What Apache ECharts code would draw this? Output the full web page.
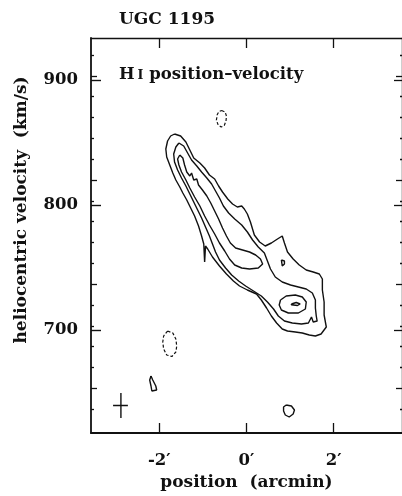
<!DOCTYPE html>
<html>
<head>
<meta charset="utf-8">
<script src="https://cdn.jsdelivr.net/npm/echarts@6/dist/echarts.min.js"></script>
<style>html,body{margin:0;padding:0;background:#fff}#chart{width:402px;height:496px}</style>
</head>
<body>
<div id="chart"></div>
<script>
// ---- tick values ----
const xTickValues = [-2, 0, 2];
const yTickValues = [700, 800, 900];
const yMediumTicks = [653.3, 736.7, 820, 903.3];
const yMinorTicks = [636.7, 670, 686.7, 703.3, 720, 753.3, 770, 786.7, 803.3, 836.7, 853.3, 870, 886.7, 920];

// ---- contours: [position (arcmin), heliocentric velocity (km/s)] ----
const contourLevel1 = [
  [-1.65,856.8],[-1.51,855.2],[-1.39,850.4],[-1.30,844],[-1.21,837.6],[-1.07,833.6],[-0.96,829.6],
  [-0.85,824],[-0.73,820.8],[-0.64,815.2],[-0.55,810.4],[-0.43,804.8],[-0.32,800.8],[-0.21,798.4],
  [-0.11,799.2],[-0.05,796.8],[0.02,792.8],[0.09,786.4],[0.18,776],[0.30,770.4],[0.43,767.2],
  [0.57,769.6],[0.71,772.8],[0.82,775.2],[0.87,769.6],[0.94,762.4],[1.07,756.8],[1.21,752],
  [1.37,748],[1.53,746.4],[1.67,744.8],[1.74,740.8],[1.74,732],[1.78,722.4],[1.78,712],[1.83,702.4],
  [1.71,696.8],[1.58,695.2],[1.44,696],[1.28,697.6],[1.12,698.4],[0.94,699.2],[0.82,700.8],
  [0.69,705.6],[0.57,711.2],[0.46,717.6],[0.34,724],[0.23,728.8],[0.02,732],[-0.16,735.2],
  [-0.30,739.2],[-0.46,744.8],[-0.62,751.2],[-0.78,758.4],[-0.89,764.8],[-0.94,767.2],[-0.96,754.4],
  [-0.98,768.8],[-1.03,775.2],[-1.10,783.2],[-1.19,791.2],[-1.28,797.6],[-1.37,804],[-1.46,809.6],
  [-1.53,814.4],[-1.62,820],[-1.69,825.6],[-1.76,832],[-1.83,838.4],[-1.85,844.8],[-1.81,851.2],
  [-1.74,855.2],[-1.65,856.8]
];
const contourLevel2 = [
  [-1.55,849.6],[-1.44,847.2],[-1.35,841.6],[-1.26,836],[-1.14,831.2],[-1.03,826.4],[-0.91,821.6],
  [-0.80,816.8],[-0.71,811.2],[-0.62,805.6],[-0.53,799.2],[-0.41,793.6],[-0.27,788.8],[-0.11,784],
  [0.02,778.4],[0.14,772],[0.27,766.4],[0.41,761.6],[0.48,755.2],[0.55,748.8],[0.66,742.4],
  [0.82,738.4],[1.01,736],[1.19,734.4],[1.37,732.8],[1.51,729.6],[1.58,724],[1.58,717.6],[1.60,711.2],
  [1.62,707.2],[1.53,706.4],[1.49,710.4],[1.42,705.6],[1.26,704.8],[1.05,705.6],[0.87,707.2],
  [0.73,711.2],[0.62,716.8],[0.48,722.4],[0.34,727.2],[0.16,731.2],[-0.02,735.2],[-0.18,739.2],
  [-0.34,744],[-0.48,749.6],[-0.62,756],[-0.71,762.4],[-0.78,768.8],[-0.85,775.2],[-0.94,782.4],
  [-1.03,789.6],[-1.12,796],[-1.21,802.4],[-1.30,808.8],[-1.39,815.2],[-1.49,821.6],[-1.58,828],
  [-1.65,834.4],[-1.67,840.8],[-1.62,846.4],[-1.55,849.6]
];
const contourLevel2Island = [[0.80,756],[0.87,755.2],[0.87,752.8],[0.82,751.2],[0.78,752.8],[0.80,756]];
const contourLevel3 = [
  [-1.53,840],[-1.46,837.6],[-1.42,832],[-1.37,826.4],[-1.30,823.2],[-1.26,825.6],[-1.21,820],
  [-1.14,820.8],[-1.10,816],[-1.01,812],[-0.91,807.2],[-0.82,801.6],[-0.73,795.2],[-0.64,788.8],
  [-0.55,781.6],[-0.46,775.2],[-0.37,769.6],[-0.25,765.6],[-0.09,764],[0.07,762.4],[0.21,760],
  [0.32,756.8],[0.37,752.8],[0.27,749.6],[0.07,748.8],[-0.11,749.6],[-0.27,752],[-0.39,756.8],
  [-0.50,763.2],[-0.62,769.6],[-0.73,776.8],[-0.85,784],[-0.96,791.2],[-1.07,799.2],[-1.19,806.4],
  [-1.30,813.6],[-1.39,820],[-1.49,826.4],[-1.55,832],[-1.58,836.8],[-1.53,840]
];
const contourLevel3Peak = [
  [0.78,724],[0.91,727.2],[1.12,728],[1.28,726.4],[1.37,722.4],[1.35,716.8],[1.19,713.6],
  [0.96,713.6],[0.80,716],[0.75,720],[0.78,724]
];
const contourLevel4Peak = [[1.03,720.8],[1.14,722],[1.23,720.8],[1.17,719.6],[1.03,720.2],[1.03,720.8]];
const noiseTeardrop = [[-2.19,663.2],[-2.15,660],[-2.08,655.2],[-2.06,652],[-2.10,650.4],[-2.17,651.2],[-2.19,655.2],[-2.22,660],[-2.19,663.2]];
const noiseBottom = [[0.91,640],[1.03,639.2],[1.10,636],[1.07,632.8],[0.98,630.4],[0.89,632],[0.85,635.2],[0.85,638.4],[0.91,640]];
const negativeTop = [[-0.57,875.6],[-0.49,874.4],[-0.46,871.2],[-0.47,867.2],[-0.51,863.6],[-0.58,862.4],[-0.65,864],[-0.69,868],[-0.67,872.4],[-0.63,874.8],[-0.57,875.6]];
const negativeLeft = [[-1.81,699.2],[-1.69,697.6],[-1.62,692.8],[-1.60,687.2],[-1.62,682.4],[-1.71,678.8],[-1.83,680],[-1.90,684.8],[-1.92,690.4],[-1.90,695.2],[-1.81,699.2]];
const beamHorizontal = [[-3.06,639.6],[-2.72,639.6]];
const beamVertical = [[-2.88,649.6],[-2.88,629.6]];

const xMin = -3.566, xMax = 3.566, yMin = 617.6, yMax = 933.6;
const FONT = 'DejaVu Serif';
const INK = '#111';

const solid = [contourLevel1, contourLevel2, contourLevel2Island, contourLevel3, contourLevel3Peak,
               contourLevel4Peak, noiseTeardrop, noiseBottom, beamHorizontal, beamVertical];
const dashed = [negativeTop, negativeLeft];

const series = [];
solid.forEach(d => series.push({type:'line', data:d, showSymbol:false, silent:true,
  lineStyle:{color:INK, width:1.4}}));
dashed.forEach(d => series.push({type:'line', data:d, showSymbol:false, silent:true,
  lineStyle:{color:INK, width:1.2, type:[3,2]}}));

function yAx(pos, values, len, showLine, width) {
  return {type:'value', min:yMin, max:yMax, position:pos,
    axisLine:{show:showLine, onZero:false, lineStyle:{color:INK, width:width||1.8}},
    axisTick:{show:true, inside:true, length:len, customValues:values, lineStyle:{color:INK, width:1.3}},
    axisLabel:{show:false}, splitLine:{show:false}};
}

const chart = echarts.init(document.getElementById('chart'), null, {renderer:'canvas'});
chart.setOption({
  animation:false,
  backgroundColor:'#fff',
  textStyle:{fontFamily:FONT},
  grid:{left:91, top:38, width:312, height:395},
  xAxis:[
    {type:'value', min:xMin, max:xMax, position:'bottom',
     axisLine:{show:true, onZero:false, lineStyle:{color:INK, width:1.8}},
     axisTick:{show:true, inside:true, length:10, customValues:xTickValues, lineStyle:{color:INK, width:1.3}},
     axisLabel:{show:true, customValues:xTickValues, margin:19, formatter:v => v + '\u2032',
       color:INK, fontFamily:FONT, fontWeight:'bold', fontSize:16.5},
     splitLine:{show:false},
     name:'position  (arcmin)', nameLocation:'middle', nameGap:38,
     nameTextStyle:{color:INK, fontFamily:FONT, fontWeight:'bold', fontSize:17}},
    {type:'value', min:xMin, max:xMax, position:'top',
     axisLine:{show:true, onZero:false, lineStyle:{color:INK, width:1.4}},
     axisTick:{show:true, inside:true, length:10, customValues:xTickValues, lineStyle:{color:INK, width:1.3}},
     axisLabel:{show:false}, splitLine:{show:false}}
  ],
  yAxis:[
    {type:'value', min:yMin, max:yMax, position:'left',
     axisLine:{show:true, onZero:false, lineStyle:{color:INK, width:1.8}},
     axisTick:{show:true, inside:true, length:10, customValues:yTickValues, lineStyle:{color:INK, width:1.4}},
     axisLabel:{show:true, customValues:yTickValues, margin:13, color:INK, fontFamily:FONT, fontWeight:'bold', fontSize:16.5},
     splitLine:{show:false}},
    yAx('left', yMediumTicks, 6, false),
    yAx('left', yMinorTicks, 3, false),
    yAx('right', yTickValues, 8, true, 1.4),
    yAx('right', yMediumTicks, 6, false),
    yAx('right', yMinorTicks, 2, false)
  ],
  graphic:[
    {type:'text', left:119, top:11, silent:true,
     style:{text:'UGC 1195', font:'bold 17px "DejaVu Serif"', fill:INK}},
    {type:'text', left:119, top:66, silent:true,
     style:{text:'{a|H}{b|I}{a| position\u2013velocity}', fill:INK,
       rich:{a:{fontFamily:FONT, fontSize:16.5, fontWeight:'bold', fill:INK},
             b:{fontFamily:FONT, fontSize:12.5, fontWeight:'bold', fill:INK, padding:[2,0,0,3]}}}},
    {type:'text', x:22, y:210, rotation:Math.PI/2, silent:true,
     style:{text:'heliocentric velocity  (km/s)', font:'bold 17px "DejaVu Serif"', fill:INK,
       align:'center', verticalAlign:'middle'}}
  ],
  series:series
});
</script>
</body>
</html>
